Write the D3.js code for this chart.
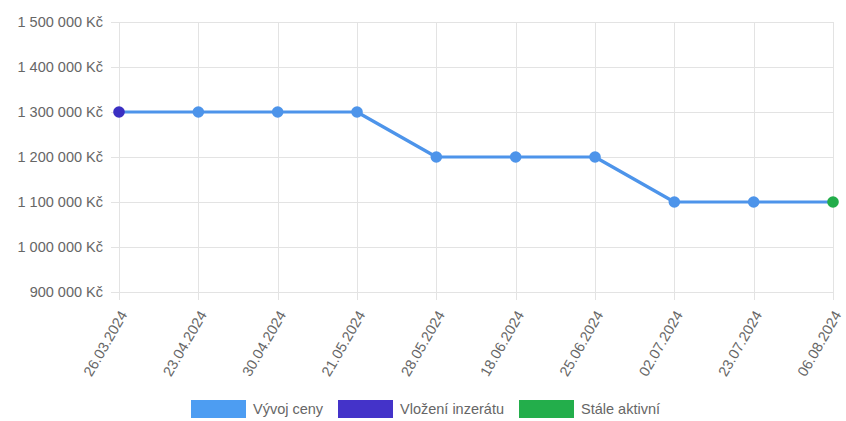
<!DOCTYPE html>
<html>
<head>
<meta charset="utf-8">
<script src="https://cdn.jsdelivr.net/npm/d3@7"></script>
<style>
  html, body { margin: 0; padding: 0; background: #fff; }
  svg { display: block; font-family: "Liberation Sans", Arial, Helvetica, sans-serif; }
</style>
</head>
<body>
<svg id="chart" width="846" height="421"></svg>
<script>
// Price history of the listing
const dates = ["26.03.2024", "23.04.2024", "30.04.2024", "21.05.2024", "28.05.2024",
               "18.06.2024", "25.06.2024", "02.07.2024", "23.07.2024", "06.08.2024"];
const prices = [1300000, 1300000, 1300000, 1300000, 1200000,
                1200000, 1200000, 1100000, 1100000, 1100000];
const yTicks = [900000, 1000000, 1100000, 1200000, 1300000, 1400000, 1500000];
const legendLabels = ["Vývoj ceny", "Vložení inzerátu", "Stále aktivní"];

const colors = { line: "#4d94ea", point: "#4d94ea", first: "#3a2fc2", last: "#22ad4a",
                 legend: ["#4d9df2", "#4433c9", "#23ae4b"] };

const svg = d3.select("#chart");
const margin = { left: 119, right: 13, top: 22, bottom: 129 };
const W = 846, H = 421;

const x = d3.scalePoint().domain(dates).range([margin.left, W - margin.right]);
const y = d3.scaleLinear().domain([900000, 1500000]).range([H - margin.bottom, margin.top]);

const fmt = v => d3.format(",")(v).replace(/,/g, " ") + " Kč";

// grid
const grid = svg.append("g").attr("stroke", "#e3e3e3").attr("stroke-width", 1);
yTicks.forEach(t => {
  grid.append("line").attr("x1", margin.left - 8).attr("x2", W - margin.right)
    .attr("y1", Math.round(y(t)) + 0.5).attr("y2", Math.round(y(t)) + 0.5);
});
dates.forEach(d => {
  grid.append("line").attr("x1", Math.round(x(d)) + 0.5).attr("x2", Math.round(x(d)) + 0.5)
    .attr("y1", margin.top).attr("y2", H - margin.bottom + 8);
});

// y axis labels
const yAxis = d3.axisLeft(y).tickValues(yTicks).tickFormat(fmt).tickSize(0).tickPadding(16);
const gy = svg.append("g").attr("transform", `translate(${margin.left},0)`).call(yAxis);
gy.select(".domain").remove();
gy.selectAll("text").attr("fill", "#666").style("font-size", "14.5px")
  .style("font-family", '"Liberation Sans", Arial, sans-serif');

// x axis labels, rotated
const xAxis = d3.axisBottom(x).tickSize(0).tickPadding(0);
const gx = svg.append("g").attr("transform", `translate(0,${H - margin.bottom})`).call(xAxis);
gx.select(".domain").remove();
gx.selectAll("text")
  .attr("fill", "#666").style("font-size", "14.5px")
  .style("font-family", '"Liberation Sans", Arial, sans-serif')
  .attr("text-anchor", "end")
  .attr("dy", "0.35em")
  .attr("transform", "translate(4,20) rotate(-60)")
  .attr("y", 0).attr("x", 0);

// line
const line = d3.line().x((d, i) => x(dates[i])).y(d => y(d));
svg.append("path").datum(prices).attr("d", line)
  .attr("fill", "none").attr("stroke", colors.line).attr("stroke-width", 3.2)
  .attr("stroke-linejoin", "round");

// points
svg.append("g").selectAll("circle").data(prices).join("circle")
  .attr("cx", (d, i) => x(dates[i])).attr("cy", d => y(d)).attr("r", 5.8)
  .attr("fill", (d, i) => i === 0 ? colors.first : (i === prices.length - 1 ? colors.last : colors.point));

// legend
const legendX = [191, 338, 519];
const lg = svg.append("g");
legendLabels.forEach((lbl, i) => {
  lg.append("rect").attr("x", legendX[i]).attr("y", 400).attr("width", 55).attr("height", 18)
    .attr("fill", colors.legend[i]);
  lg.append("text").attr("x", legendX[i] + 62).attr("y", 409).attr("dy", "0.35em")
    .attr("fill", "#666").style("font-size", "14.5px").text(lbl);
});
</script>
</body>
</html>
